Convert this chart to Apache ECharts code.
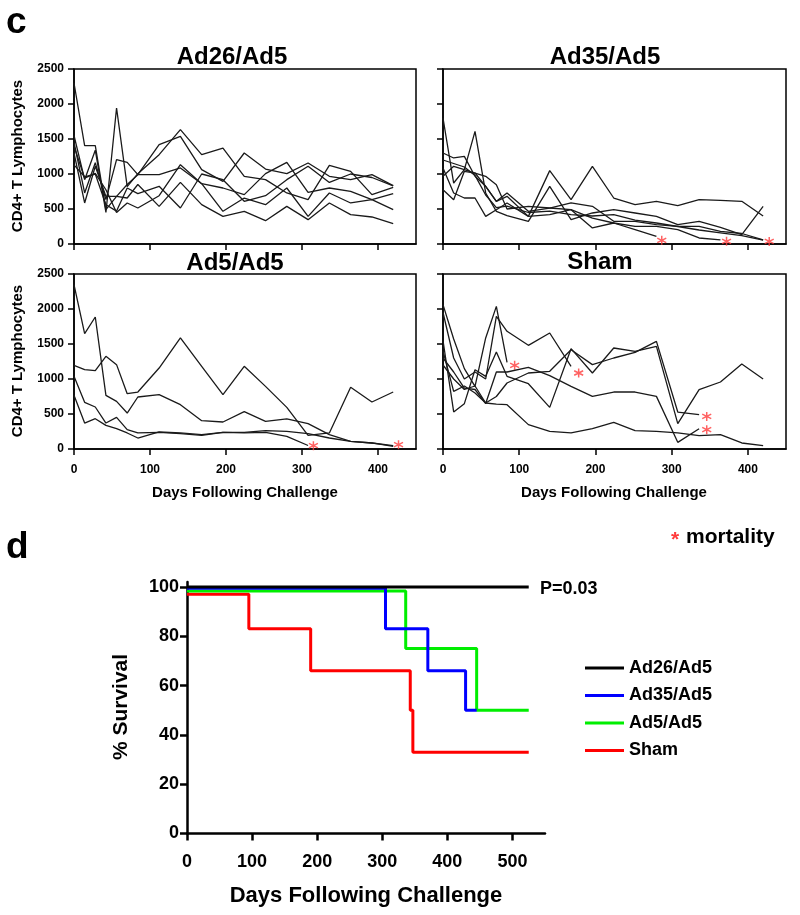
<!DOCTYPE html>
<html>
<head>
<meta charset="utf-8">
<script src="https://cdn.jsdelivr.net/npm/echarts@6/dist/echarts.min.js"></script>
<style>
html,body{margin:0;padding:0;background:#fff;}
#main{width:800px;height:915px;}
</style>
</head>
<body>
<div id="main"></div>
<script>
// ---- Panel c data (CD4+ T lymphocytes) ----
const daysC = [0,14,28,42,56,70,84,112,140,168,196,224,252,280,308,336,364,392,420];
const cTicksX = [0,100,200,300,400];

const ad26Lines = [
  [2300,1405,1405,490,680,850,990,1419,1538,1062,895,1300,1071,1005,1157,967,919,990,833],
  [1550,919,1340,450,1943,820,1005,1276,1633,1276,1371,967,919,729,633,1124,1038,705,810],
  [1450,729,1160,633,1205,1167,990,990,1086,862,800,705,1005,1167,738,800,752,633,719],
  [1400,940,1010,775,450,586,514,690,1133,862,467,657,562,800,395,729,586,633,490],
  [1300,586,1110,680,680,657,850,538,881,562,395,467,333,538,348,586,419,386,290],
  [1130,960,1000,560,470,800,720,824,514,1000,919,610,690,919,1110,880,1000,950,830]
];
const ad35Lines = [
  [967,1110,1062,1014,824,610,681,395,1048,633,1110,657,562,610,548,633,624,610,400],
  [1800,871,1062,1610,729,467,405,324,824,348,443,490,443,395,276,324,238,133,538],
  [1300,1229,1252,967,824,610,729,467,514,586,538,324,324,276,252,252,181,150,60],
  [1086,729,657,657,395,490,586,395,419,490,371,300,205,110],
  [776,633,1038,1014,967,848,500,538,514,490,229,300,252,252,205,86,60],
  [1200,1150,1100,980,700,520,540,450,470,420,400,420,340,300,250,200,160,120,55]
];
const ad35Deaths = [[287,52],[372,38],[428,37]];

const ad5Lines = [
  [2348,1648,1886,767,681,514,743,776,633,405,386,533,395,429,362,205,110,86,38],
  [1195,1133,1119,1324,1205,790,814,1157,1586,1181,776,1181,895,595,195,229,881,671,814],
  [1038,667,600,371,452,276,229,238,219,195,238,238,262,252,219,157,110,86,48],
  [767,371,433,338,290,229,157,243,229,205,238,229,238,181,50]
];
const ad5Deaths = [[315,48],[427,62]];

const shamLines = [
  [2062,1571,1148,895,1586,2038,1238],
  [1950,1300,1000,1100,1000,1895,1681,1481,1657,1181],
  [1550,529,648,1133,1038,1386,1038,933,595,1433,1086,1443,1395,1467,362,847,957,1214,1000],
  [1400,824,900,800,657,750,943,1086,1110,1419,1205,1300,1380,1538,528,490],
  [1300,1100,870,850,650,1100,1100,1167,1048,895,752,814,814,752,95,290],
  [1200,1000,850,900,657,640,633,348,252,229,290,381,262,252,229,190,205,86,48]
];
const shamDeaths = [[94,1195],[178,1086],[346,466],[346,276]];

// ---- Panel d data (% survival, Kaplan-Meier steps) ----
const survNames = ['Ad26/Ad5','Ad35/Ad5','Ad5/Ad5','Sham'];
const survAd26 = [[0,100],[525,100]];
const survAd35 = [[0,99.5],[305,83],[370,66],[428,50],[445,50]];
const survAd5  = [[0,98.3],[336,75],[445,50],[525,50]];
const survSham = [[0,97],[95,83],[190,66],[343,50],[347,33],[525,33]];
const survTicksX = [0,100,200,300,400,500];
const survTicksY = [0,20,40,60,80,100];

const FONT = 'Liberation Sans, Arial, sans-serif';
const chart = echarts.init(document.getElementById('main'), null, {renderer:'canvas'});
const plain = v => String(v);

const cGrids = [
  {left:74, top:69, width:342, height:175},
  {left:443, top:69, width:343, height:175},
  {left:74, top:274, width:342, height:175},
  {left:443, top:274, width:343, height:175}
];
const grids = cGrids.map(g => Object.assign({show:true, borderColor:'#000', borderWidth:1.5, backgroundColor:'transparent'}, g));
grids.push({left:187, top:582, width:358, height:251.5});

const xAxes = [], yAxes = [];
for (let i = 0; i < 4; i++) {
  xAxes.push({
    type:'value', gridIndex:i, min:0, max:450,
    axisLine:{show:true, lineStyle:{color:'#000', width:1.5}},
    axisTick:{show:true, inside:false, length:6, customValues:cTicksX, lineStyle:{color:'#000', width:1.5}},
    axisLabel:{show:i>=2, customValues:cTicksX, formatter:plain, fontSize:12, fontWeight:'bold', color:'#000', fontFamily:FONT, margin:15},
    splitLine:{show:false}
  });
  yAxes.push({
    type:'value', gridIndex:i, min:0, max:2500, interval:500,
    axisLine:{show:true, lineStyle:{color:'#000', width:1.5}},
    axisTick:{show:true, inside:false, length:6, lineStyle:{color:'#000', width:1.5}},
    axisLabel:{show:i%2===0, formatter:plain, fontSize:12, fontWeight:'bold', color:'#000', fontFamily:FONT, margin:10},
    splitLine:{show:false}
  });
}
xAxes.push({
  type:'value', gridIndex:4, min:0, max:550,
  axisLine:{show:true, lineStyle:{color:'#000', width:2.5}},
  axisTick:{show:true, inside:false, length:7, customValues:survTicksX, lineStyle:{color:'#000', width:2.5}},
  axisLabel:{customValues:survTicksX, formatter:plain, fontSize:18, fontWeight:'bold', color:'#000', fontFamily:FONT, margin:20},
  splitLine:{show:false}
});
yAxes.push({
  type:'value', gridIndex:4, min:0, max:102,
  axisLine:{show:true, lineStyle:{color:'#000', width:2.5}},
  axisTick:{show:true, inside:false, length:7, customValues:survTicksY, lineStyle:{color:'#000', width:2.5}},
  axisLabel:{customValues:survTicksY, formatter:plain, fontSize:18, fontWeight:'bold', color:'#000', fontFamily:FONT, margin:8},
  splitLine:{show:false}
});

const series = [];
const panels = [ad26Lines, ad35Lines, ad5Lines, shamLines];
const deaths = [[], ad35Deaths, ad5Deaths, shamDeaths];
const ASTER = 'path://M5,0L5,10M0.67,2.5L9.33,7.5M0.67,7.5L9.33,2.5';
panels.forEach((lines, pi) => {
  lines.forEach((vals, li) => {
    series.push({
      type:'line', name:'p'+pi+'_'+li, xAxisIndex:pi, yAxisIndex:pi,
      data: vals.map((v,j) => [daysC[j], v]),
      symbol:'none', silent:true,
      lineStyle:{color:'#1a1a1a', width:1.3}
    });
  });
  if (deaths[pi].length) {
    series.push({
      type:'scatter', name:'d'+pi, xAxisIndex:pi, yAxisIndex:pi,
      data: deaths[pi], symbol:ASTER, symbolSize:[9,9], silent:true,
      itemStyle:{color:'none', borderColor:'#ff3b3b', borderWidth:1.5}
    });
  }
});
const survData = [survAd26, survAd35, survAd5, survSham];
const survColors = ['#000000','#0000ff','#00ee00','#ff0000'];
[3,2,1,0].forEach(k => {
  series.push({
    type:'line', name:survNames[k], xAxisIndex:4, yAxisIndex:4,
    data: survData[k], step:'end', symbol:'none', silent:true,
    color: survColors[k],
    lineStyle:{color:survColors[k], width:3}
  });
});

function txt(text, x, y, size, opts) {
  opts = opts || {};
  return {
    type:'text', x:x, y:y, rotation:opts.rot || 0, silent:true,
    style:{text:text, fontSize:size, fontWeight:'bold', fontFamily:FONT,
      fill:opts.fill || '#000', align:opts.align || 'center', verticalAlign:'middle'}
  };
}

const graphics = [
  txt('c', 6, 23, 37, {align:'left'}),
  txt('d', 6, 548, 37, {align:'left'}),
  txt('Ad26/Ad5', 232, 57, 24),
  txt('Ad35/Ad5', 605, 57, 24),
  txt('Ad5/Ad5', 235, 263, 24),
  txt('Sham', 600, 262, 24),
  txt('CD4+ T Lymphocytes', 18, 156, 15, {rot:Math.PI/2}),
  txt('CD4+ T Lymphocytes', 18, 361, 15, {rot:Math.PI/2}),
  txt('Days Following Challenge', 245, 493, 15),
  txt('Days Following Challenge', 614, 493, 15),
  txt('% Survival', 121, 707, 21, {rot:Math.PI/2}),
  txt('Days Following Challenge', 366, 896, 22),
  txt('P=0.03', 540, 589, 18, {align:'left'}),
  txt('*', 671, 540, 21, {align:'left', fill:'#ff3b3b'}),
  txt('mortality', 686, 537, 21, {align:'left'})
];

chart.setOption({
  animation:false,
  textStyle:{fontFamily:FONT},
  grid:grids,
  xAxis:xAxes,
  yAxis:yAxes,
  legend:{
    data:survNames, orient:'vertical', left:580, top:654,
    icon:'rect', itemWidth:39, itemHeight:3, itemGap:9.5,
    textStyle:{fontSize:18, fontWeight:'bold', color:'#000', fontFamily:FONT},
    selectedMode:false
  },
  series:series,
  graphic:graphics
});
</script>
</body>
</html>
